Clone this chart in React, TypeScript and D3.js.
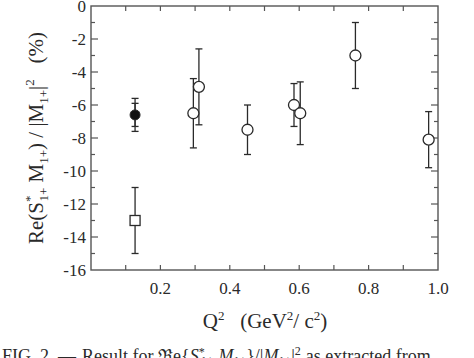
import * as d3 from 'd3';

// open circles
const openQ2 = [0.295, 0.311, 0.451, 0.585, 0.603, 0.762, 0.973];
const openVal = [-6.5, -4.9, -7.5, -6.0, -6.5, -3.0, -8.1];
const openErr = [2.1, 2.3, 1.5, 1.3, 1.9, 2.0, 1.7];

// filled circle (stat + total error)
const filledQ2 = [0.127];
const filledVal = [-6.6];
const filledErrIn = [0.7];
const filledErrOut = [1.0];

// open square
const squareQ2 = [0.127];
const squareVal = [-13.0];
const squareErr = [2.0];

const xTickLabels = ['0.2', '0.4', '0.6', '0.8', '1.0'];
const yTickLabels = ['0', '-2', '-4', '-6', '-8', '-10', '-12', '-14', '-16'];

const W = 474;
const H = 358;
const m = { left: 91, right: 438, top: 6, bottom: 270 };
const ink = '#2a2a2a';
const serif = { fontFamily: '"Liberation Serif", "Times New Roman", serif' };

export default function App() {
  const x = d3.scaleLinear().domain([0, 1]).range([m.left, m.right]);
  const y = d3.scaleLinear().domain([-16, 0]).range([m.bottom, m.top]);

  const xMinor = d3.range(1, 10).map((i) => i / 10);
  const yMinor = d3.range(-15, 0);

  const cap = 3.5;
  const errBar = (cx: number, v: number, e: number, key: string) => (
    <g key={key} stroke={ink} strokeWidth={1.3}>
      <line x1={x(cx)} x2={x(cx)} y1={y(v + e)} y2={y(v - e)} />
      <line x1={x(cx) - cap} x2={x(cx) + cap} y1={y(v + e)} y2={y(v + e)} />
      <line x1={x(cx) - cap} x2={x(cx) + cap} y1={y(v - e)} y2={y(v - e)} />
    </g>
  );

  return (
    <svg width={W} height={H} style={{ position: 'absolute', left: 0, top: 0, background: '#fff' }}>
      <rect x={0} y={0} width={W} height={H} fill="#fff" />
      {/* frame */}
      <rect x={m.left} y={m.top} width={m.right - m.left} height={m.bottom - m.top} fill="none" stroke="#555" strokeWidth={1.4} />

      {/* x ticks top and bottom */}
      {xMinor.map((t) => (
        <g key={'xt' + t} stroke="#555" strokeWidth={1.2}>
          <line x1={x(t)} x2={x(t)} y1={m.bottom} y2={m.bottom - 5} />
          <line x1={x(t)} x2={x(t)} y1={m.top} y2={m.top + 5} />
        </g>
      ))}
      {/* y ticks left and right */}
      {yMinor.map((t) => {
        const len = t % 2 === 0 ? 7 : 4;
        return (
          <g key={'yt' + t} stroke="#555" strokeWidth={1.2}>
            <line x1={m.left} x2={m.left + len} y1={y(t)} y2={y(t)} />
            <line x1={m.right} x2={m.right - len} y1={y(t)} y2={y(t)} />
          </g>
        );
      })}

      {/* tick labels */}
      {xTickLabels.map((l) => (
        <text key={'xl' + l} x={x(+l)} y={294} textAnchor="middle" style={serif} fontSize={17} fill={ink}>
          {l}
        </text>
      ))}
      {yTickLabels.map((l) => (
        <text key={'yl' + l} x={86} y={y(+l) + 6} textAnchor="end" style={serif} fontSize={17} fill={ink}>
          {l}
        </text>
      ))}

      {/* error bars */}
      {openQ2.map((q, i) => errBar(q, openVal[i], openErr[i], 'oe' + i))}
      {squareQ2.map((q, i) => errBar(q, squareVal[i], squareErr[i], 'se' + i))}
      {filledQ2.map((q, i) => (
        <g key={'fe' + i}>
          {errBar(q, filledVal[i], filledErrOut[i], 'fo' + i)}
          {errBar(q, filledVal[i], filledErrIn[i], 'fi' + i)}
        </g>
      ))}

      {/* markers */}
      {openQ2.map((q, i) => (
        <circle key={'oc' + i} cx={x(q)} cy={y(openVal[i])} r={5.5} fill="#fff" stroke={ink} strokeWidth={1.3} />
      ))}
      {squareQ2.map((q, i) => (
        <rect key={'sq' + i} x={x(q) - 5} y={y(squareVal[i]) - 5} width={10} height={10} fill="#fff" stroke={ink} strokeWidth={1.3} />
      ))}
      {filledQ2.map((q, i) => (
        <circle key={'fc' + i} cx={x(q)} cy={y(filledVal[i])} r={5} fill="#111" stroke={ink} strokeWidth={1} />
      ))}

      {/* x axis title */}
      <text x={265} y={328} textAnchor="middle" style={serif} fontSize={21} fill={ink}>
        Q<tspan dy={-8} fontSize={13}>2</tspan>
        <tspan dy={8}>{'\u00a0\u00a0\u00a0(GeV'}</tspan>
        <tspan dy={-8} fontSize={13}>2</tspan>
        <tspan dy={8}>/ c</tspan>
        <tspan dy={-8} fontSize={13}>2</tspan>
        <tspan dy={8}>)</tspan>
      </text>

      {/* y axis title */}
      <text transform="translate(43,138) rotate(-90)" textAnchor="middle" style={serif} fontSize={21} fill={ink}>
        Re(S<tspan dy={-9} fontSize={13}>*</tspan>
        <tspan dx={-6} dy={14} fontSize={13}>1+</tspan>
        <tspan dy={-5}> M</tspan>
        <tspan dy={5} fontSize={13}>1+</tspan>
        <tspan dy={-5}>)  /  |M</tspan>
        <tspan dy={5} fontSize={13}>1+</tspan>
        <tspan dy={-5}>|</tspan>
        <tspan dy={-9} fontSize={13}>2</tspan>
        <tspan dy={9}>{'\u00a0\u00a0\u00a0(%)'}</tspan>
      </text>

      {/* caption, cut off at the page edge */}
      <text y={362} style={serif} fontSize={18} fill={ink}>
        <tspan x={2}>FIG. 2. —</tspan>
        <tspan x={82}>Result for ℜe{'{'}</tspan>
        <tspan fontStyle="italic">S</tspan>
        <tspan dy={-6} fontSize={12}>*</tspan>
        <tspan dx={-4} dy={9} fontSize={12}>1+</tspan>
        <tspan dx={5} dy={-3} fontStyle="italic">M</tspan>
        <tspan dy={3} fontSize={12}>1+</tspan>
        <tspan dy={-3}>{'}/|'}</tspan>
        <tspan fontStyle="italic">M</tspan>
        <tspan dy={3} fontSize={12}>1+</tspan>
        <tspan dy={-3}>|</tspan>
        <tspan dy={-7} fontSize={12}>2</tspan>
        <tspan dx={5} dy={7}>as extracted from</tspan>
      </text>
    </svg>
  );
}
